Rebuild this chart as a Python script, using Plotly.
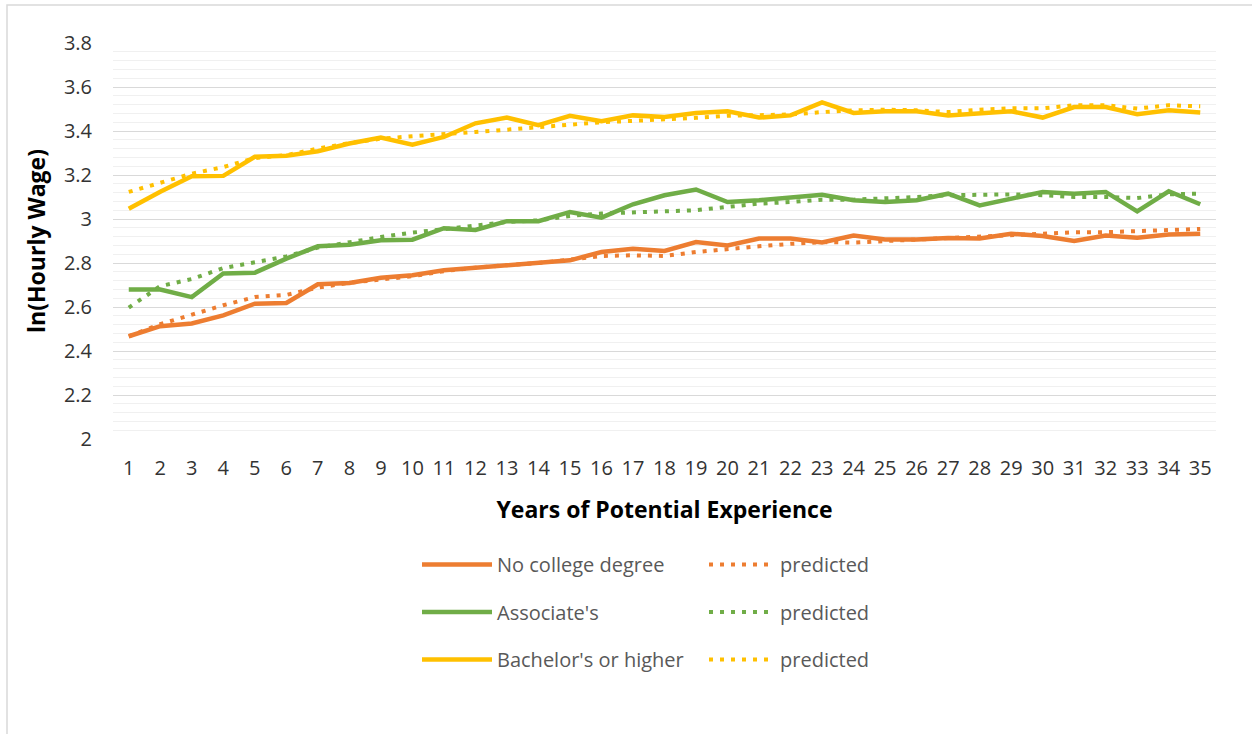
import plotly.graph_objects as go

years = list(range(1, 36))

no_college = [2.467, 2.513, 2.525, 2.562, 2.615, 2.618, 2.703, 2.709, 2.733, 2.744,
              2.767, 2.778, 2.790, 2.797, 2.812, 2.850, 2.865, 2.855, 2.895, 2.880,
              2.911, 2.911, 2.893, 2.925, 2.907, 2.907, 2.914, 2.911, 2.933, 2.923,
              2.900, 2.925, 2.915, 2.930, 2.933]
no_college_pred = [2.467, 2.522, 2.565, 2.608, 2.645, 2.655, 2.688, 2.710, 2.725, 2.740,
                   2.763, 2.779, 2.790, 2.800, 2.815, 2.832, 2.835, 2.832, 2.850, 2.865,
                   2.876, 2.887, 2.895, 2.893, 2.900, 2.906, 2.915, 2.918, 2.929, 2.936,
                   2.940, 2.940, 2.945, 2.952, 2.955]

associates = [2.679, 2.679, 2.645, 2.752, 2.756, 2.820, 2.876, 2.883, 2.903, 2.906,
              2.958, 2.950, 2.990, 2.990, 3.032, 3.006, 3.067, 3.108, 3.134, 3.077,
              3.085, 3.097, 3.110, 3.085, 3.077, 3.085, 3.115, 3.062, 3.092, 3.123,
              3.115, 3.123, 3.035, 3.126, 3.067]
associates_pred = [2.597, 2.695, 2.727, 2.777, 2.803, 2.830, 2.870, 2.895, 2.918, 2.938,
                   2.955, 2.972, 2.986, 2.994, 3.014, 3.025, 3.032, 3.035, 3.040, 3.055,
                   3.070, 3.077, 3.088, 3.088, 3.092, 3.100, 3.108, 3.112, 3.112, 3.108,
                   3.100, 3.100, 3.095, 3.112, 3.115]

bachelors = [3.047, 3.124, 3.194, 3.196, 3.283, 3.288, 3.308, 3.343, 3.370, 3.338,
             3.373, 3.435, 3.461, 3.426, 3.469, 3.444, 3.471, 3.464, 3.482, 3.490,
             3.461, 3.471, 3.530, 3.482, 3.490, 3.490, 3.471, 3.482, 3.490, 3.461,
             3.509, 3.509, 3.476, 3.494, 3.484]
bachelors_pred = [3.123, 3.165, 3.206, 3.236, 3.277, 3.290, 3.320, 3.345, 3.365, 3.376,
                  3.388, 3.396, 3.406, 3.418, 3.430, 3.440, 3.446, 3.452, 3.460, 3.469,
                  3.472, 3.475, 3.486, 3.494, 3.497, 3.494, 3.486, 3.497, 3.503, 3.503,
                  3.517, 3.517, 3.502, 3.517, 3.512]

series_names = ["No college degree", "Associate's", "Bachelor's or higher"]
actual = [no_college, associates, bachelors]
predicted = [no_college_pred, associates_pred, bachelors_pred]
colors = ["#ED7D31", "#70AD47", "#FFC000"]

FONT = "Open Sans"

fig = go.Figure()
for i, (name, ys, ps, c) in enumerate(zip(series_names, actual, predicted, colors)):
    fig.add_trace(go.Scatter(
        x=years, y=ys, mode="lines", name=name,
        line=dict(color=c, width=4.5),
        legend="legend", legendgroup=f"a{i}",
    ))
    fig.add_trace(go.Scatter(
        x=years, y=ps, mode="lines", name="predicted",
        line=dict(color=c, width=4, dash="4px,7px"),
        legend="legend2", legendgroup=f"p{i}",
    ))

legend_common = dict(
    orientation="v", yanchor="top", xanchor="left",
    font=dict(family=FONT, size=20, color="#595959"),
    bgcolor="rgba(0,0,0,0)", tracegroupgap=18.5,
    itemclick=False, itemdoubleclick=False,
)

fig.update_layout(
    width=1252, height=734,
    margin=dict(l=113, r=36, t=43, b=295),
    paper_bgcolor="white", plot_bgcolor="white",
    font=dict(family=FONT, size=20, color="#333333"),
    showlegend=True,
    legend=dict(x=(417 - 113) / 1103, y=(439 - 545) / 396, itemwidth=70, **legend_common),
    legend2=dict(x=(704 - 113) / 1103, y=(439 - 545) / 396, itemwidth=66, **legend_common),
    xaxis=dict(
        range=[0.5, 35.5], tickmode="array", tickvals=years,
        ticktext=[str(v) for v in years],
        showgrid=False, zeroline=False, showline=False,
        ticks="", ticklabelstandoff=15,
        tickfont=dict(family=FONT, size=20, color="#333333"),
        title=dict(text="<b>Years of Potential Experience</b>",
                   font=dict(family=FONT, size=23, color="#000000"), standoff=21),
    ),
    yaxis=dict(
        range=[2, 3.8], tickmode="linear", tick0=2, dtick=0.2,
        tickformat="~g",
        showgrid=True, gridcolor="#D9D9D9", gridwidth=1.3,
        zeroline=False, showline=False, ticks="", ticklabelstandoff=20,
        tickfont=dict(family=FONT, size=20, color="#333333"),
        minor=dict(dtick=0.04, showgrid=True, gridcolor="#F0F0F0", gridwidth=1.3),
        title=dict(text="<b>ln(Hourly Wage)</b>",
                   font=dict(family=FONT, size=23, color="#000000"), standoff=11),
    ),
    shapes=[dict(type="rect", xref="paper", yref="paper",
                 x0=(7 - 113) / 1103, x1=(1300 - 113) / 1103,
                 y0=(439 - 800) / 396, y1=(439 - 5) / 396,
                 line=dict(color="#D9D9D9", width=1.5), fillcolor="rgba(0,0,0,0)",
                 layer="below")],
)

fig.write_html("out.html", config={"displayModeBar": False},
               post_script="document.body.style.margin='0';")
